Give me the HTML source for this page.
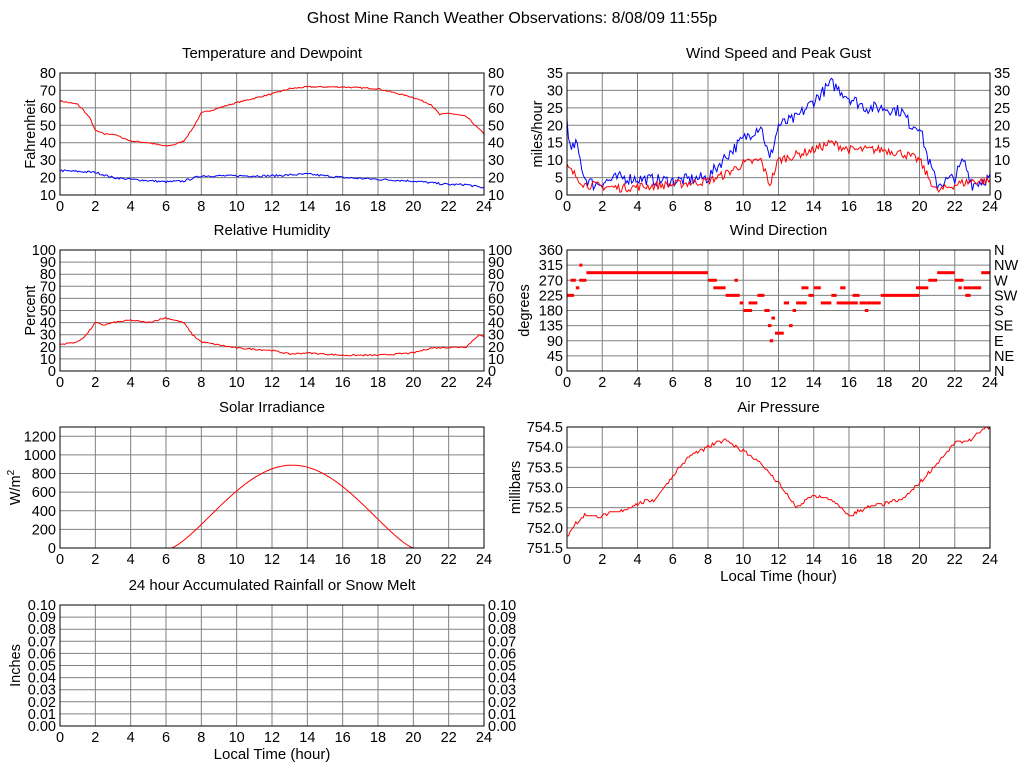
<!DOCTYPE html>
<html><head><meta charset="utf-8"><style>
body{margin:0;background:#fff}
svg text{font-family:"Liberation Sans",sans-serif;font-size:14.5px;fill:#000}
</style></head><body>
<svg id="s" width="1024" height="768" xmlns="http://www.w3.org/2000/svg"></svg>
<script>
const s=document.getElementById('s');let h='';
h+='<rect width="1024" height="768" fill="#fff"/>';
h+='<text x="512" y="23" text-anchor="middle" style="font-size:16px">Ghost Mine Ranch Weather Observations: 8/08/09 11:55p</text>';
let seed=7;function rnd(){seed=(seed*16807)%2147483647;return seed/2147483647;}
function interp(k,t){for(let i=0;i<k.length-1;i++){if(t>=k[i][0]&&t<=k[i+1][0]){const f=(t-k[i][0])/(k[i+1][0]-k[i][0]);return k[i][1]+f*(k[i+1][1]-k[i][1]);}}return k[k.length-1][1];}
function panel(o){
 const {x0,y0,x1,y1,min,max,ticks,grid}=o;
 const X=t=>x0+(x1-x0)*t/24, Y=v=>y1-(y1-y0)*(v-min)/(max-min);
 for(let t=2;t<24;t+=2)h+=`<line x1="${X(t)}" x2="${X(t)}" y1="${y0}" y2="${y1}" stroke="#808080"/>`;
 (grid||ticks).forEach(v=>{const y=Y(v);if(y>y0+0.5&&y<y1-0.5)h+=`<line x1="${x0}" x2="${x1}" y1="${y}" y2="${y}" stroke="#808080"/>`;});
 for(let t=0;t<=24;t+=2)h+=`<text x="${X(t)}" y="${y1+16}" text-anchor="middle">${t}</text>`;
 ticks.forEach((v,i)=>{const y=Y(v)+5;const lab=o.fmt?o.fmt(v):v;
  h+=`<text x="${x0-4}" y="${y}" text-anchor="end">${lab}</text>`;
  if(o.right)h+=`<text x="${x1+4}" y="${y}">${o.rlab?o.rlab[i]:lab}</text>`;});
 h+=`<text x="${(x0+x1)/2}" y="${y0-15}" text-anchor="middle" style="font-size:15px">${o.title}</text>`;
 h+=`<text transform="translate(${o.lx},${(y0+y1)/2}) rotate(-90)" text-anchor="middle">${o.ylabel}</text>`;
 if(o.xl)h+=`<text x="${(x0+x1)/2}" y="${y1+33}" text-anchor="middle" style="font-size:15px">Local Time (hour)</text>`;
 (o.series||[]).forEach(sr=>{let p=[];for(let i=0;i<=sr.n;i++){const t=24*i/sr.n;let v=interp(sr.k,t)+(sr.noise?(rnd()-0.5)*sr.noise:0);if(sr.f)v=sr.f(t);if(v<min)v=min;if(v>max)v=max;
   if(sr.step)v=Math.round(v*20)/20;p.push(X(t).toFixed(1)+','+Y(v).toFixed(1));}
  h+=`<polyline points="${p.join(' ')}" fill="none" stroke="${sr.c}" stroke-width="1"/>`;});
 if(o.extra)o.extra(X,Y);
 h+=`<rect x="${x0}" y="${y0}" width="${x1-x0}" height="${y1-y0}" fill="none" stroke="#000"/>`;
}
const r=(a,b,st)=>{let o=[];for(let v=a;v<=b+1e-9;v+=st)o.push(+v.toFixed(3));return o;};
panel({x0:60,y0:73,x1:484,y1:195,min:10,max:80,ticks:r(10,80,10),right:1,title:'Temperature and Dewpoint',ylabel:'Fahrenheit',lx:35,
 series:[{c:'red',n:288,noise:0.8,k:[[0,64],[0.5,63],[1,62],[1.3,59],[1.7,54],[2,47],[2.5,45],[3,45],[4,41],[5,40],[6,38],[6.5,39],[7,41],[7.5,48],[8,57],[9,60],[10,63],[12,68],[13,71],[14,72],[16,72],[18,71],[20,66],[21,62],[21.5,56],[22,57],[22.5,56],[23,55],[24,45]]},
 {c:'blue',n:288,noise:1.2,k:[[0,24],[2,23],[3,20],[4,19],[6,17.5],[7,18],[8,21],[12,21],[14,22],[16,20],[20,18],[22,16],[23,16],[24,14]]}]});
panel({x0:567,y0:73,x1:990,y1:195,min:0,max:35,ticks:r(0,35,5),right:1,title:'Wind Speed and Peak Gust',ylabel:'miles/hour',lx:542,
 series:[{c:'blue',n:288,noise:3.5,k:[[0,22],[0.2,12],[0.5,15],[1,5],[1.5,3],[3,5],[6,4],[8,5],[9,11],[10,16],[11,20],[11.5,10],[12,20],[13,22],[14,27],[15,32],[16,28],[17,25],[18,25],[19,24],[19.5,20],[20,20],[20.5,10],[21,3],[22,5],[22.5,10],[23,3],[24,5]]},
 {c:'red',n:288,noise:2.5,k:[[0,8],[1,3],[3,2],[6,3],[8,4],[9,6],[10,9],[11,10],[11.5,3],[12,10],[14,13],[15,15],[16,13],[18,13],[19,12],[20,10],[20.5,5],[21,1],[22,3],[23,4],[24,4]]}]});
panel({x0:60,y0:250,x1:484,y1:371,min:0,max:100,ticks:r(0,100,10),right:1,title:'Relative Humidity',ylabel:'Percent',lx:35,
 series:[{c:'red',n:288,noise:1.2,k:[[0,22],[1,24],[1.5,30],[2,40],[2.5,38],[3,40],[4,42],[5,40],[5.5,42],[6,44],[7,40],[7.5,30],[8,24],[10,19],[12,17],[13,14],[14,15],[16,13],[18,13],[20,15],[21,19],[23,20],[23.7,30],[24,28]]}]});
const dirs=[[0,0.4,225],[0.2,0.5,270],[0.5,0.7,247.5],[0.7,0.8,315],[0.7,1.1,270],[1.1,8,292.5],[8,8.5,270],[8.3,9,247.5],[9,9.8,225],[9.5,9.7,270],[9.8,10,202.5],[10,10.5,180],[10.3,10.8,202.5],[10.8,11.2,225],[11.2,11.5,180],[11.4,11.6,135],[11.6,11.8,157.5],[11.8,12.3,112.5],[11.5,11.7,90],[12.3,12.6,202.5],[12.6,12.8,135],[12.8,13,180],[13,13.6,202.5],[13.3,13.7,247.5],[13.7,14,225],[14,14.4,247.5],[14.4,15,202.5],[15,15.3,225],[15.3,15.8,202.5],[15.5,15.8,247.5],[15.8,16.5,202.5],[16.2,16.6,225],[16.6,17,202.5],[16.9,17.1,180],[17,17.8,202.5],[17.8,20,225],[19.8,20.5,247.5],[20.5,21,270],[21,22,292.5],[22,22.5,270],[22.2,22.4,247.5],[22.5,23,247.5],[22.6,22.9,225],[23,23.5,247.5],[23.5,24,292.5]];
panel({x0:567,y0:250,x1:990,y1:371,min:0,max:360,ticks:r(0,360,45),right:1,rlab:['N','NE','E','SE','S','SW','W','NW','N'],title:'Wind Direction',ylabel:'degrees',lx:529,
 extra:(X,Y)=>{dirs.forEach(d=>{h+=`<rect x="${X(d[0])}" y="${Y(d[2])-1.5}" width="${Math.max(3,X(d[1])-X(d[0]))}" height="3" fill="red"/>`;});}});
panel({x0:60,y0:427,x1:484,y1:548,min:0,max:1300,ticks:r(0,1200,200),title:'Solar Irradiance',ylabel:'W/m<tspan dy="-6" style="font-size:10px">2</tspan>',lx:20,
 series:[{c:'red',n:288,k:[[0,0]],f:t=>(t<6.3||t>20)?0:890*Math.pow(Math.sin(Math.PI*(t-6.3)/13.7),1.3)}]});
panel({x0:567,y0:427,x1:990,y1:548,min:751.5,max:754.5,ticks:r(751.5,754.5,0.5),fmt:v=>v.toFixed(1),title:'Air Pressure',ylabel:'millibars',lx:520,xl:1,
 series:[{c:'red',n:288,noise:0.08,step:1,k:[[0,751.8],[0.5,752.1],[1,752.3],[2,752.3],[3,752.4],[4,752.6],[5,752.7],[5.5,753.0],[6,753.3],[7,753.8],[8,754.0],[8.5,754.1],[9,754.2],[10,753.9],[11,753.6],[12,753.1],[12.5,752.8],[13,752.5],[14,752.8],[15,752.7],[16,752.3],[17,752.5],[18,752.6],[19,752.7],[20,753.1],[21,753.6],[22,754.1],[23,754.2],[23.8,754.5],[24,754.5]]}]});
panel({x0:60,y0:605,x1:484,y1:726,min:0,max:0.1,ticks:r(0,0.1,0.01),fmt:v=>v.toFixed(2),right:1,title:'24 hour Accumulated Rainfall or Snow Melt',ylabel:'Inches',lx:20,xl:1});
s.innerHTML=h;
</script>
</body></html>
